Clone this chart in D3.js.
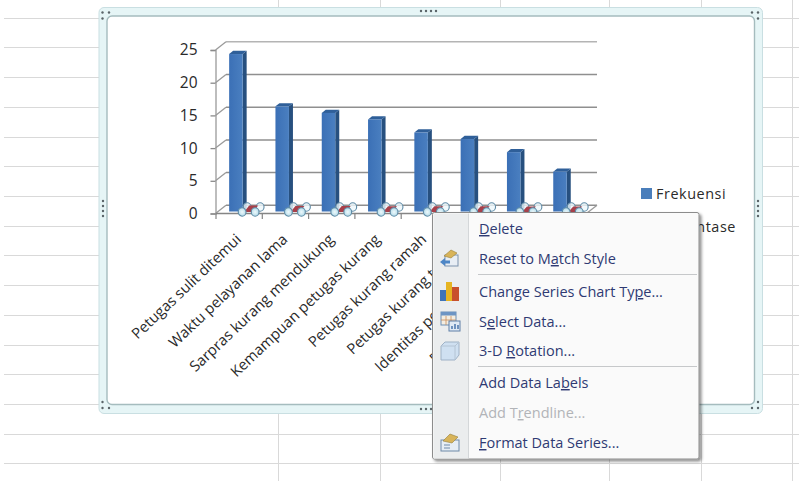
<!DOCTYPE html>
<html>
<head>
<meta charset="utf-8">
<style>
  html, body { margin: 0; padding: 0; background: #fff; }
  svg { display: block; }
  text { font-family: "Open Sans", "Noto Sans", sans-serif; }
</style>
<script src="https://cdn.jsdelivr.net/npm/d3@7"></script>
</head>
<body>
<svg id="sheet" width="799" height="481"></svg>
<script>
// Chart data
const categories = [
  "Petugas sulit ditemui", "Waktu pelayanan lama", "Sarpras kurang mendukung",
  "Kemampuan petugas kurang", "Petugas kurang ramah", "Petugas kurang tanggap",
  "Identitas petugas tidak jelas", "Prosedur pelayanan rumit"
];
const frekuensi = [24, 16, 15, 14, 12, 11, 9, 6];
const persentase = [0.22, 0.15, 0.14, 0.13, 0.11, 0.10, 0.08, 0.06];
const yTicks = [0, 5, 10, 15, 20, 25];
const legendLabels = ["Frekuensi", "Persentase"];

// Context menu: text, index of the underlined letter, enabled flag
const menuLabels = ["Delete", "Reset to Match Style", "Change Series Chart Type...", "Select Data...",
  "3-D Rotation...", "Add Data Labels", "Add Trendline...", "Format Data Series..."];
const menuMnemonics = [0, 10, 22, 1, 4, 11, 5, 0];
const menuEnabled = [true, true, true, true, true, true, false, true];
const menuRows = [229, 259, 292, 322, 351, 383, 413, 443];

// Worksheet cell grid
const sheetRows = [18, 47, 77, 107, 137, 166, 196, 226, 255, 285, 315, 345, 374, 404, 434, 463];
const sheetCols = [278, 380, 500, 609, 701, 792];

const svg = d3.select("#sheet");
const defs = svg.append("defs");

const frontGrad = defs.append("linearGradient").attr("id", "barFront");
frontGrad.append("stop").attr("offset", "0%").attr("stop-color", "#3b70b6");
frontGrad.append("stop").attr("offset", "100%").attr("stop-color", "#4a7fc0");

const handleGrad = defs.append("radialGradient").attr("id", "handleFill");
handleGrad.append("stop").attr("offset", "0%").attr("stop-color", "#eef9fc");
handleGrad.append("stop").attr("offset", "100%").attr("stop-color", "#b5dcea");

const shadow = defs.append("filter").attr("id", "menuShadow")
  .attr("x", "-5%").attr("y", "-5%").attr("width", "112%").attr("height", "112%");
shadow.append("feDropShadow").attr("dx", 2).attr("dy", 2).attr("stdDeviation", 1.6)
  .attr("flood-color", "#000").attr("flood-opacity", 0.45);

// Worksheet gridlines
const gridG = svg.append("g").attr("stroke", "#d9d9d9").attr("stroke-width", 1);
gridG.selectAll("line.row").data(sheetRows).join("line").attr("class", "row")
  .attr("x1", 4).attr("x2", 799).attr("y1", d => d + 0.5).attr("y2", d => d + 0.5);
gridG.selectAll("line.col").data(sheetCols).join("line").attr("class", "col")
  .attr("x1", d => d + 0.5).attr("x2", d => d + 0.5).attr("y1", 0).attr("y2", 481);

// Selected chart frame
svg.append("rect").attr("x", 99).attr("y", 7.5).attr("width", 663.5).attr("height", 406).attr("rx", 5)
  .attr("fill", "#e6f5f6").attr("stroke", "#c9dfe2");
svg.append("rect").attr("x", 107).attr("y", 16).attr("width", 647.5).attr("height", 388.5).attr("rx", 5)
  .attr("fill", "#fff").attr("stroke", "#a5bcbe").attr("stroke-width", 1.4);

// Sizing dots on corners and edge midpoints
const dots = [
  [102.5,12.5],[109,12.5],[102.5,18.5], [752,12.5],[758,12.5],[758,18.5],
  [102.5,408],[102.5,402],[109,408], [752,408],[758,408],[758,402],
  [421,11],[426,11],[431,11],[436,11], [421,409],[426,409],[431,409],[436,409],
  [103,201],[103,206],[103,211],[103,216], [758,201],[758,206],[758,211],[758,216]
];
svg.append("g").selectAll("circle").data(dots).join("circle")
  .attr("cx", d => d[0]).attr("cy", d => d[1]).attr("r", 1.2).attr("fill", "#5a6468");

// Scales
const x = d3.scaleBand().domain(categories).range([216, 586.4]);
const y = d3.scaleLinear().domain([0, 25]).range([213.5, 50]);
const depthX = 10.5, depthY = 8.2;

const chart = svg.append("g");

// Back wall gridlines, with the diagonal return to each front tick
const wall = chart.append("g").attr("fill", "none");
wall.selectAll("line.back").data(yTicks).join("line").attr("class", "back")
  .attr("x1", 215.5 + depthX).attr("x2", 597)
  .attr("y1", d => y(d) - depthY).attr("y2", d => y(d) - depthY)
  .attr("stroke", d => d === 25 ? "#b4b4b4" : "#8f8f8f").attr("stroke-width", 1.5);
wall.selectAll("line.diag").data(yTicks).join("line").attr("class", "diag")
  .attr("x1", 215.5).attr("x2", 215.5 + depthX)
  .attr("y1", d => y(d)).attr("y2", d => y(d) - depthY)
  .attr("stroke", "#9a9a9a").attr("stroke-width", 1.3);
wall.append("line").attr("x1", 586.4).attr("x2", 597).attr("y1", y(0)).attr("y2", y(0) - depthY)
  .attr("stroke", "#9a9a9a").attr("stroke-width", 1.3);

// Value axis
const yAxis = d3.axisLeft(y).tickValues(yTicks).tickSize(5).tickPadding(13);
const yG = chart.append("g").attr("transform", "translate(215.5,0)").call(yAxis);
yG.select(".domain").attr("stroke", "#9a9a9a").attr("stroke-width", 1.3);
yG.selectAll(".tick line").attr("stroke", "#8a8a8a").attr("stroke-width", 1.3);
yG.selectAll(".tick text").attr("fill", "#2a2a2a").style("font-size", "15.5px")
  .style("font-family", '"Open Sans", sans-serif');

// Category axis
const xEdges = d3.range(categories.length + 1).map(i => 216 + i * x.step());
chart.append("line").attr("x1", 216).attr("x2", 586.4).attr("y1", y(0)).attr("y2", y(0))
  .attr("stroke", "#858585").attr("stroke-width", 1.5);
chart.append("g").selectAll("line").data(xEdges).join("line")
  .attr("x1", d => d).attr("x2", d => d).attr("y1", y(0)).attr("y2", y(0) + 5.5)
  .attr("stroke", "#858585").attr("stroke-width", 1.2);

// Frekuensi columns: front, side and top faces
const bars = chart.append("g").selectAll("g").data(frekuensi).join("g")
  .attr("transform", (d, i) => `translate(${x(categories[i]) + x.bandwidth() / 2},0)`);
const barLeft = -10, barW = 13.5, barDX = 4, barDY = 3.2, lift = 2.5;
bars.append("path").attr("fill", "#27507f").attr("d", d => {
  const t = y(d) - lift, b = y(0) - 2;
  return `M${barLeft + barW},${t}L${barLeft + barW + barDX},${t - barDY}L${barLeft + barW + barDX},${b - barDY}L${barLeft + barW},${b}Z`;
});
bars.append("path").attr("fill", "#2f5f99").attr("d", d => {
  const t = y(d) - lift;
  return `M${barLeft},${t}L${barLeft + barDX},${t - barDY}L${barLeft + barW + barDX},${t - barDY}L${barLeft + barW},${t}Z`;
});
bars.append("rect").attr("x", barLeft).attr("width", barW)
  .attr("y", d => y(d) - lift).attr("height", d => y(0) - 2 - (y(d) - lift))
  .attr("fill", "url(#barFront)");

// Persentase columns: very short next to the frequencies, selection handles on the corners
const pct = chart.append("g").selectAll("g").data(persentase).join("g")
  .attr("transform", (d, i) => `translate(${x(categories[i]) + x.bandwidth() / 2},0)`);
const pLeft = 3, pW = 13, pDX = 5, pDY = 5;
const backCorners = [[pLeft + pDX, -pDY], [pLeft + pW + pDX, -pDY]];
const frontCorners = [[pLeft, 0], [pLeft + pW, 0]];
const addHandles = (list, fill, opacity) => list.forEach(c => {
  pct.append("ellipse").attr("cx", c[0]).attr("cy", y(0) - 1.5 + c[1])
    .attr("rx", 3.9).attr("ry", 4.2)
    .attr("fill", fill).attr("fill-opacity", opacity)
    .attr("stroke", "#5f8ba6").attr("stroke-width", 1.1);
});
addHandles(backCorners, "#eef8fb", 0.8);
pct.append("path").attr("fill", "#a8404a").attr("d", d => {
  const b = y(0) - 1.5, t = b - (y(0) - y(d));
  return `M${pLeft + 2},${b}L${pLeft + pW - 2},${b}L${pLeft + pW + pDX - 2},${t - pDY}L${pLeft + pDX + 2},${t - pDY}Z`;
});
addHandles(frontCorners, "url(#handleFill)", 1);

// Rotated category labels
chart.append("g").selectAll("text").data(categories).join("text")
  .attr("text-anchor", "end")
  .attr("transform", d => `translate(${x(d) + x.bandwidth() / 2 + 3},${y(0) + 27}) rotate(-43.5)`)
  .attr("fill", "#2a2a2a").style("font-size", "14.8px").text(d => d);

// Legend
const legend = svg.append("g");
const legendColors = ["#4a7ebb", "#be4b48"];
legendLabels.forEach((label, i) => {
  const rowY = 193.5 + i * 33.5;
  legend.append("rect").attr("x", 641).attr("y", rowY - 5.5).attr("width", 11).attr("height", 11)
    .attr("fill", legendColors[i]);
  legend.append("text").attr("x", 656).attr("y", rowY + 5)
    .attr("fill", "#2a2a2a").style("font-size", "14.4px").style("letter-spacing", "0.55px").text(label);
});

// Context menu
const menu = svg.append("g");
menu.append("rect").attr("x", 432.5).attr("y", 212.5).attr("width", 266.5).attr("height", 246.5).attr("rx", 2)
  .attr("fill", "#fafafa").attr("stroke", "#8c8c8c").attr("filter", "url(#menuShadow)");
menu.append("rect").attr("x", 433.5).attr("y", 213.5).attr("width", 34.5).attr("height", 245)
  .attr("fill", "#ebedee");
menu.append("line").attr("x1", 468.5).attr("x2", 468.5).attr("y1", 213.5).attr("y2", 458.5).attr("stroke", "#d4d7d9");
menu.selectAll("line.sep").data([274.5, 366.5]).join("line").attr("class", "sep")
  .attr("x1", 478).attr("x2", 697).attr("y1", d => d).attr("y2", d => d).attr("stroke", "#c6c8ca");

const menuText = menu.append("g").selectAll("text").data(menuLabels).join("text")
  .attr("x", 479).attr("y", (d, i) => menuRows[i] + 5)
  .attr("fill", (d, i) => menuEnabled[i] ? "#2f3a73" : "#b2b4b8")
  .style("font-size", "14.5px");
menuText.each(function (label, i) {
  const sel = d3.select(this), m = menuMnemonics[i];
  sel.append("tspan").text(label.slice(0, m));
  sel.append("tspan").style("text-decoration", "underline").text(label[m]);
  sel.append("tspan").text(label.slice(m + 1));
});

// Menu icons
const icon = (cx, cy) => menu.append("g").attr("transform", `translate(${cx},${cy})`);
// Reset to style: sheet with a back arrow
const ic1 = icon(450, 259);
ic1.append("rect").attr("x", -5).attr("y", -4).attr("width", 13).attr("height", 11).attr("fill", "#e8eef5").attr("stroke", "#7d93ad");
ic1.append("path").attr("d", "M-6,-3L1,-9L7,-6L1,-1Z").attr("fill", "#d8b45a").attr("stroke", "#9c8238").attr("stroke-width", 0.6);
ic1.append("path").attr("d", "M-10,3L-5,-1V1.5H0V4.5H-5V7Z").attr("fill", "#4d86c6");
// Change chart type: three coloured columns
const ic2 = icon(450, 292);
ic2.append("rect").attr("x", -10).attr("y", -2).attr("width", 6).attr("height", 11).attr("fill", "#3f74b8");
ic2.append("rect").attr("x", -4).attr("y", -10).attr("width", 6).attr("height", 19).attr("fill", "#e6b422");
ic2.append("rect").attr("x", 2).attr("y", -5).attr("width", 7).attr("height", 14).attr("fill", "#c8502c");
// Select data: table with a small chart
const ic3 = icon(450, 321);
ic3.append("rect").attr("x", -9).attr("y", -9).attr("width", 15).attr("height", 13).attr("fill", "#f4ede0").attr("stroke", "#6d8fb5");
ic3.append("rect").attr("x", -9).attr("y", -9).attr("width", 15).attr("height", 3.5).attr("fill", "#6d95c4");
ic3.append("path").attr("d", "M-4,-5V4M1,-5V4M-9,-1H6").attr("stroke", "#c98e5a").attr("stroke-width", 0.8);
ic3.append("rect").attr("x", -1).attr("y", 0).attr("width", 11).attr("height", 10).attr("fill", "#dfeaf5").attr("stroke", "#5f7fa6");
ic3.append("path").attr("d", "M2,8V5M5,8V3M8,8V4").attr("stroke", "#3f6ea8").attr("stroke-width", 1.4);
// 3-D rotation: pale cube
const ic4 = icon(450, 351);
ic4.append("path").attr("d", "M-9,-5L-5,-9H9V4L5,9H-9Z").attr("fill", "#cfe0f1").attr("stroke", "#9fb2c6");
ic4.append("path").attr("d", "M-9,-5H5V9M5,-5L9,-9").attr("fill", "none").attr("stroke", "#b4c4d4");
// Format data series: folder-like sheet
const ic5 = icon(450, 443);
ic5.append("rect").attr("x", -9).attr("y", -3).attr("width", 18).attr("height", 11).attr("fill", "#e6edf4").attr("stroke", "#6f8aa8");
ic5.append("path").attr("d", "M-7,-2L0,-9L8,-6L2,0Z").attr("fill", "#d8b45a").attr("stroke", "#96803a").attr("stroke-width", 0.6);
ic5.append("path").attr("d", "M-6,2H0M-6,5H0").attr("stroke", "#6f8aa8");
</script>
</body>
</html>
